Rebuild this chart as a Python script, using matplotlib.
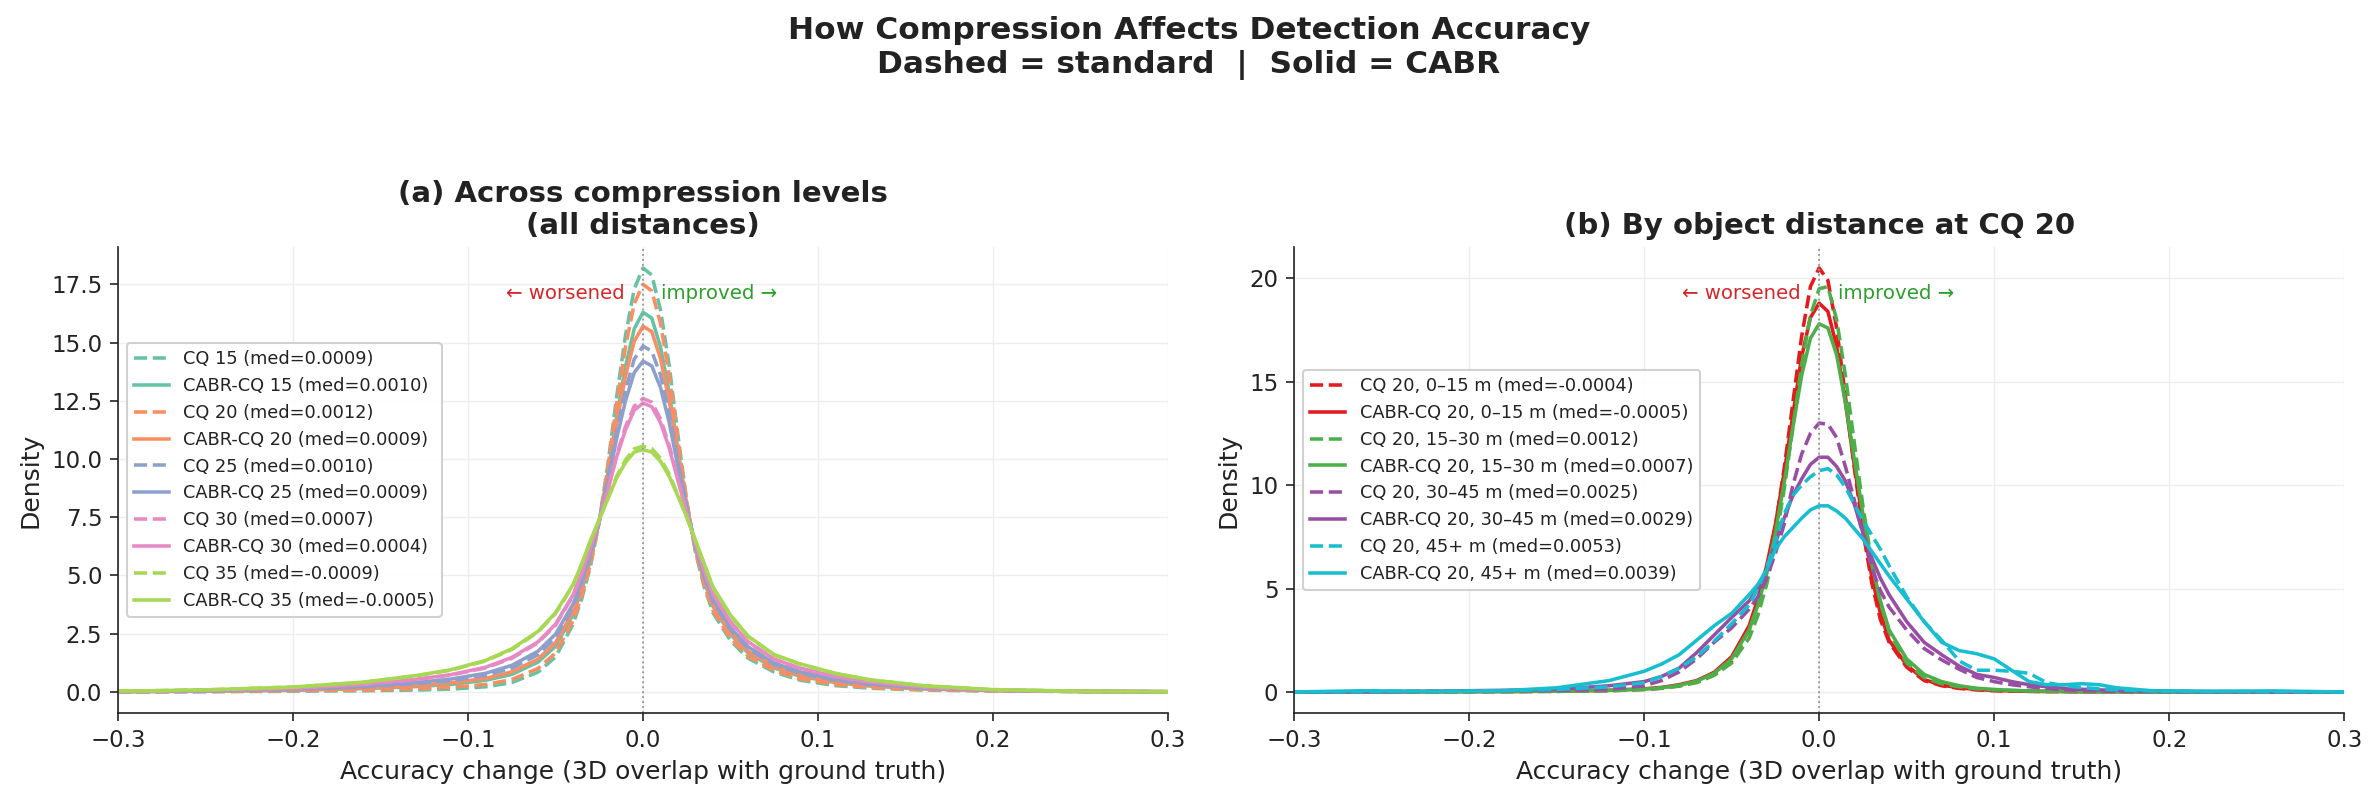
import matplotlib.pyplot as plt

# ---- data (density of accuracy change) ----
x_a = [-0.30, -0.25, -0.20, -0.16, -0.13, -0.11, -0.09, -0.075, -0.06, -0.05, -0.04, -0.035,
       -0.03, -0.025, -0.02, -0.015, -0.01, -0.005, 0.0, 0.005, 0.01, 0.015, 0.02, 0.025,
       0.03, 0.035, 0.04, 0.05, 0.06, 0.075, 0.09, 0.11, 0.13, 0.16, 0.20, 0.25, 0.30]

cq15_std = [0.0, 0.01, 0.03, 0.05, 0.08, 0.12, 0.22, 0.4, 0.85, 1.5, 2.9, 4.0, 5.4, 7.3, 9.8, 12.7,
            15.3, 17.3, 18.2, 17.9, 16.4, 14.0, 11.0, 8.2, 6.0, 4.5, 3.4, 2.2, 1.45, 0.85, 0.5,
            0.27, 0.16, 0.08, 0.04, 0.02, 0.01]
cq15_cabr = [0.01, 0.03, 0.07, 0.14, 0.23, 0.32, 0.5, 0.75, 1.28, 1.96, 3.32, 4.37, 5.67, 7.32,
             9.43, 11.85, 13.97, 15.59, 16.3, 16.05, 14.81, 12.84, 10.37, 8.03, 6.12, 4.74, 3.67,
             2.47, 1.68, 1.03, 0.67, 0.4, 0.25, 0.13, 0.06, 0.02, 0.01]
cq20_std = [0.0, 0.02, 0.05, 0.08, 0.14, 0.2, 0.32, 0.53, 1.01, 1.67, 3.05, 4.14, 5.5, 7.31, 9.67,
            12.39, 14.81, 16.67, 17.5, 17.22, 15.82, 13.57, 10.77, 8.14, 6.05, 4.59, 3.5, 2.3,
            1.54, 0.92, 0.56, 0.32, 0.19, 0.1, 0.05, 0.02, 0.01]
cq20_cabr = [0.01, 0.04, 0.09, 0.17, 0.28, 0.39, 0.58, 0.86, 1.41, 2.11, 3.44, 4.48, 5.75, 7.33,
             9.32, 11.58, 13.56, 15.06, 15.7, 15.47, 14.32, 12.48, 10.17, 7.98, 6.16, 4.82, 3.75,
             2.55, 1.75, 1.09, 0.72, 0.44, 0.28, 0.14, 0.06, 0.02, 0.01]
cq25_std = [0.01, 0.04, 0.11, 0.21, 0.35, 0.48, 0.71, 1.02, 1.6, 2.32, 3.63, 4.65, 5.87, 7.34,
            9.16, 11.2, 12.96, 14.29, 14.85, 14.63, 13.61, 11.96, 9.88, 7.9, 6.22, 4.93, 3.87,
            2.67, 1.86, 1.17, 0.8, 0.5, 0.32, 0.16, 0.07, 0.02, 0.01]
cq25_cabr = [0.02, 0.05, 0.12, 0.24, 0.4, 0.55, 0.8, 1.14, 1.75, 2.48, 3.77, 4.77, 5.96, 7.35,
             9.03, 10.9, 12.5, 13.71, 14.2, 14.0, 13.07, 11.56, 9.67, 7.84, 6.26, 5.01, 3.96,
             2.76, 1.94, 1.24, 0.86, 0.54, 0.35, 0.18, 0.07, 0.03, 0.01]
cq30_std = [0.02, 0.07, 0.16, 0.32, 0.53, 0.72, 1.03, 1.44, 2.11, 2.86, 4.12, 5.08, 6.19, 7.37,
            8.72, 10.19, 11.39, 12.27, 12.6, 12.44, 11.73, 10.59, 9.13, 7.7, 6.36, 5.22, 4.19,
            2.99, 2.13, 1.39, 1.0, 0.65, 0.42, 0.22, 0.08, 0.03, 0.01]
cq30_cabr = [0.02, 0.07, 0.16, 0.33, 0.54, 0.74, 1.06, 1.48, 2.15, 2.91, 4.17, 5.12, 6.22, 7.37,
             8.68, 10.1, 11.25, 12.09, 12.4, 12.25, 11.56, 10.47, 9.07, 7.68, 6.37, 5.24, 4.22,
             3.02, 2.16, 1.41, 1.02, 0.66, 0.43, 0.22, 0.08, 0.03, 0.01]
cq35_std = [0.03, 0.09, 0.21, 0.41, 0.69, 0.93, 1.33, 1.82, 2.57, 3.36, 4.57, 5.47, 6.48, 7.4,
            8.33, 9.27, 9.96, 10.44, 10.55, 10.45, 10.03, 9.35, 8.45, 7.51, 6.49, 5.48, 4.48,
            3.28, 2.38, 1.58, 1.19, 0.79, 0.51, 0.27, 0.1, 0.03, 0.01]
cq35_cabr = [0.03, 0.09, 0.21, 0.42, 0.7, 0.95, 1.35, 1.85, 2.6, 3.4, 4.6, 5.5, 6.5, 7.4, 8.3,
             9.2, 9.85, 10.3, 10.4, 10.3, 9.9, 9.25, 8.4, 7.5, 6.5, 5.5, 4.5, 3.3, 2.4, 1.6, 1.2,
             0.8, 0.52, 0.27, 0.1, 0.03, 0.01]

cq_levels = [15, 20, 25, 30, 35]
med_std_a = ['0.0009', '0.0012', '0.0010', '0.0007', '-0.0009']
med_cabr_a = ['0.0010', '0.0009', '0.0009', '0.0004', '-0.0005']

x_b = [-0.30, -0.26, -0.22, -0.18, -0.15, -0.12, -0.10, -0.09, -0.08, -0.07, -0.06, -0.05, -0.04,
       -0.035, -0.03, -0.025, -0.02, -0.015, -0.01, -0.005, 0.0, 0.005, 0.01, 0.015, 0.02, 0.025,
       0.03, 0.035, 0.04, 0.05, 0.06, 0.07, 0.08, 0.09, 0.10, 0.11, 0.12, 0.13, 0.14, 0.15, 0.16,
       0.17, 0.19, 0.22, 0.26, 0.30]

d0_15_std = [0, 0, 0.01, 0.02, 0.03, 0.06, 0.12, 0.18, 0.3, 0.5, 0.85, 1.5, 3.0, 4.3, 5.9, 8.0,
             10.8, 14.0, 17.2, 19.6, 20.5, 19.9, 17.6, 14.3, 10.9, 7.8, 5.3, 3.5, 2.4, 1.2, 0.55,
             0.3, 0.17, 0.1, 0.06, 0.04, 0.03, 0.02, 0.02, 0.01, 0.01, 0.01, 0, 0, 0, 0]
d0_15_cabr = [0, 0, 0.01, 0.02, 0.04, 0.08, 0.15, 0.22, 0.35, 0.55, 0.95, 1.7, 3.2, 4.5, 6.1, 8.1,
              10.6, 13.4, 16.2, 18.1, 18.8, 18.4, 16.7, 14.0, 11.0, 8.2, 5.6, 3.8, 2.5, 1.3, 0.6,
              0.33, 0.2, 0.12, 0.07, 0.05, 0.03, 0.02, 0.02, 0.01, 0.01, 0.01, 0, 0, 0, 0]
d15_30_std = [0, 0, 0.01, 0.02, 0.03, 0.06, 0.12, 0.18, 0.28, 0.45, 0.8, 1.4, 2.6, 3.7, 5.2, 7.2,
              9.8, 12.8, 15.8, 18.2, 19.5, 19.6, 18.0, 15.3, 12.1, 9.0, 6.3, 4.3, 2.9, 1.4, 0.7,
              0.4, 0.25, 0.15, 0.1, 0.07, 0.05, 0.03, 0.02, 0.02, 0.01, 0.01, 0, 0, 0, 0]
d15_30_cabr = [0, 0, 0.01, 0.02, 0.04, 0.08, 0.14, 0.2, 0.32, 0.52, 0.9, 1.6, 3.0, 4.2, 5.7, 7.7,
               10.1, 12.8, 15.3, 17.1, 17.8, 17.6, 16.3, 14.0, 11.3, 8.6, 6.2, 4.4, 3.0, 1.6, 0.85,
               0.5, 0.3, 0.18, 0.12, 0.08, 0.05, 0.04, 0.03, 0.02, 0.01, 0.01, 0, 0, 0, 0]
d30_45_std = [0, 0.01, 0.03, 0.05, 0.07, 0.12, 0.3, 0.55, 0.97, 1.6, 2.4, 3.1, 4.0, 4.6, 5.5, 6.7,
              8.1, 10.0, 11.5, 12.5, 13.0, 12.95, 12.3, 10.9, 9.3, 7.6, 6.0, 4.9, 4.1, 3.0, 2.1,
              1.55, 1.1, 0.7, 0.5, 0.35, 0.25, 0.17, 0.1, 0.07, 0.05, 0.04, 0.02, 0.01, 0, 0]
d30_45_cabr = [0, 0.01, 0.04, 0.08, 0.13, 0.3, 0.5, 0.75, 1.15, 1.9, 2.75, 3.6, 4.4, 5.0, 5.9,
               7.2, 8.4, 9.5, 10.3, 11.0, 11.35, 11.35, 10.9, 10.2, 9.1, 7.7, 6.5, 5.5, 4.7, 3.4,
               2.4, 1.8, 1.25, 0.85, 0.7, 0.5, 0.35, 0.25, 0.18, 0.13, 0.1, 0.07, 0.04, 0.02,
               0.01, 0]
d45_std = [0, 0.01, 0.03, 0.06, 0.12, 0.25, 0.45, 0.75, 1.15, 1.7, 2.45, 3.3, 4.2, 5.0, 6.0, 7.3,
           8.6, 9.5, 10.0, 10.4, 10.7, 10.8, 10.5, 9.9, 9.1, 8.3, 7.6, 6.9, 6.1, 4.6, 3.4, 2.5,
           1.5, 1.05, 1.05, 1.0, 0.9, 0.45, 0.3, 0.22, 0.15, 0.1, 0.05, 0.02, 0.01, 0]
d45_cabr = [0, 0.06, 0.02, 0.06, 0.2, 0.55, 1.0, 1.35, 1.8, 2.5, 3.2, 3.8, 4.7, 5.2, 5.9, 6.9,
            7.5, 7.95, 8.4, 8.8, 9.0, 9.0, 8.75, 8.4, 7.9, 7.4, 6.8, 6.2, 5.6, 4.5, 3.4, 2.4,
            2.0, 1.85, 1.6, 1.05, 0.5, 0.35, 0.35, 0.4, 0.35, 0.2, 0.06, 0.03, 0.05, 0]

dist_bins = ['0–15 m', '15–30 m', '30–45 m', '45+ m']
med_std_b = ['-0.0004', '0.0012', '0.0025', '0.0053']
med_cabr_b = ['-0.0005', '0.0007', '0.0029', '0.0039']

colors_a = ['#66c2a5', '#fc8d62', '#8da0cb', '#e78ac3', '#a6d854']
colors_b = ['#e41a1c', '#4daf4a', '#984ea3', '#17becf']

plt.rcParams['font.family'] = 'DejaVu Sans'
plt.rcParams['axes.edgecolor'] = '#222222'
plt.rcParams['text.color'] = '#222222'
plt.rcParams['axes.labelcolor'] = '#222222'
plt.rcParams['xtick.color'] = '#222222'
plt.rcParams['ytick.color'] = '#222222'

fig, (ax1, ax2) = plt.subplots(1, 2, figsize=(15.85, 5.36), dpi=150)
fig.subplots_adjust(left=0.0496, right=0.986, bottom=0.113, top=0.693, wspace=0.12)

std_a = [cq15_std, cq20_std, cq25_std, cq30_std, cq35_std]
cabr_a = [cq15_cabr, cq20_cabr, cq25_cabr, cq30_cabr, cq35_cabr]
for i, cq in enumerate(cq_levels):
    ax1.plot(x_a, std_a[i], color=colors_a[i], ls='--', lw=1.7,
             label=f'CQ {cq} (med={med_std_a[i]})')
    ax1.plot(x_a, cabr_a[i], color=colors_a[i], ls='-', lw=1.7,
             label=f'CABR-CQ {cq} (med={med_cabr_a[i]})')

std_b = [d0_15_std, d15_30_std, d30_45_std, d45_std]
cabr_b = [d0_15_cabr, d15_30_cabr, d30_45_cabr, d45_cabr]
for i, d in enumerate(dist_bins):
    ax2.plot(x_b, std_b[i], color=colors_b[i], ls='--', lw=1.7,
             label=f'CQ 20, {d} (med={med_std_b[i]})')
    ax2.plot(x_b, cabr_b[i], color=colors_b[i], ls='-', lw=1.7,
             label=f'CABR-CQ 20, {d} (med={med_cabr_b[i]})')

ax1.set_title('(a) Across compression levels\n(all distances)', fontsize=14, fontweight='bold')
ax2.set_title('(b) By object distance at CQ 20', fontsize=14, fontweight='bold')

for ax in (ax1, ax2):
    ax.axvline(0, color='#999999', ls=':', lw=0.9)
    ax.set_xlim(-0.3, 0.3)
    ax.set_xlabel('Accuracy change (3D overlap with ground truth)', fontsize=12)
    ax.set_ylabel('Density', fontsize=12)
    ax.tick_params(labelsize=11, length=4)
    ax.grid(True, color='#eeeeee', lw=0.7)
    ax.set_axisbelow(True)
    ax.spines['top'].set_visible(False)
    ax.spines['right'].set_visible(False)
    ax.text(-0.0105, 0.9, '← worsened', transform=ax.get_xaxis_transform(),
            ha='right', va='center', color='#d62728', fontsize=9.5)
    ax.text(0.0105, 0.9, 'improved →', transform=ax.get_xaxis_transform(),
            ha='left', va='center', color='#2ca02c', fontsize=9.5)
    ax.legend(loc='center left', fontsize=8.5, framealpha=0.9, edgecolor='#cccccc')

fig.suptitle('How Compression Affects Detection Accuracy\nDashed = standard  |  Solid = CABR',
             fontsize=15, fontweight='bold', y=0.98)

fig.savefig('out.png', dpi=150)
